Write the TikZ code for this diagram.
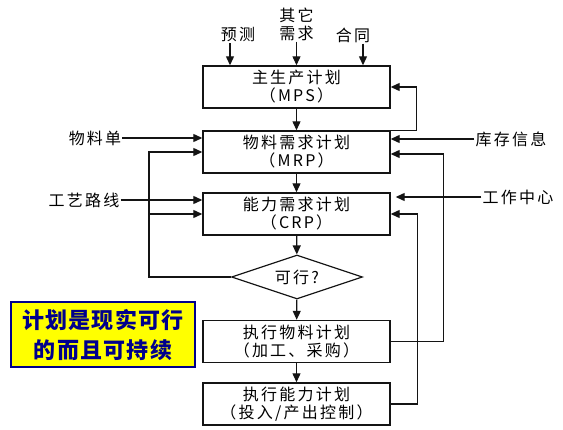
\documentclass[tikz,border=0pt]{standalone}
\usepackage{fontspec}
\usepackage{xcolor}
\usetikzlibrary{arrows.meta, positioning, shapes.geometric}
\newfontfamily\cjk[LetterSpace=14]{Noto Sans CJK SC}
\newfontfamily\notefont[LetterSpace=6]{Noto Sans CJK SC}
\definecolor{noteyellow}{RGB}{255,255,0}
\definecolor{noteblue}{RGB}{0,0,140}
\definecolor{lineblack}{RGB}{20,20,20}

\begin{document}
\begin{tikzpicture}[
    x=1pt,
    y=-1pt,
    font=\cjk\fontsize{16}{18}\selectfont,
    box/.style={draw=lineblack, line width=1.4pt, fill=white, align=center, minimum width=187pt, minimum height=42pt, inner sep=0pt},
    check/.style={draw=lineblack, line width=1.2pt, diamond, aspect=3, minimum width=131pt, minimum height=44pt, inner sep=0pt},
    label/.style={inner sep=1pt, align=center},
    note/.style={draw=noteblue, line width=1.4pt, fill=noteyellow, text=noteblue, align=center, minimum width=184pt, minimum height=65pt, inner sep=0pt, font=\notefont\bfseries\fontsize{22}{30}\selectfont},
    arrow/.style={-{Triangle[length=9pt, width=8pt]}, line width=1.2pt, draw=lineblack},
    bus/.style={line width=1.2pt, draw=lineblack}
]
\useasboundingbox (0,0) rectangle (563,430);
\node[box] (mps) at (296.5,87) {主生产计划\\（MPS）};
\node[box] (mrp) at (296.5,152) {物料需求计划\\（MRP）};
\node[box] (crp) at (296.5,214) {能力需求计划\\（CRP）};
\node[check] (feasible) at (297,277) {可行?};
\node[box] (execmat) at (296.5,341.5) {执行物料计划\\（加工、采购）};
\node[box] (execcap) at (296.5,404) {执行能力计划\\（投入/产出控制）};
\node[note] (note) at (103,334.5) {计划是现实可行\\的而且可持续};
\node[label] (forecast) at (238,35) {预测};
\node[label] (other) at (296.5,24) {其它\\需求};
\node[label] (contract) at (353,35) {合同};
\node[label] (bom) at (95,138) {物料单};
\node[label] (routing) at (84,200) {工艺路线};
\node[label] (inventory) at (511,139) {库存信息};
\node[label] (workcenter) at (518,197) {工作中心};
\coordinate (fcin) at ([xshift=-66.5pt]mps.north);
\coordinate (ctin) at ([xshift=66.5pt]mps.north);
\coordinate (loop) at (149,277);
% inputs
\draw[arrow] (fcin |- forecast.south) -- (fcin);
\draw[arrow] (other.south) -- (mps.north);
\draw[arrow] (ctin |- contract.south) -- (ctin);
\draw[arrow] (bom.east) -- (bom.east -| mrp.west);
\draw[arrow] (routing.east) -- (routing.east -| crp.west);
\draw[arrow] (inventory.west) -- (inventory.west -| mrp.east);
\draw[arrow, shorten >=5pt] (workcenter.west) -- (workcenter.west -| crp.east);
% main chain
\draw[arrow] (mps) -- (mrp);
\draw[arrow] (mrp) -- (crp);
\draw[arrow] (crp) -- (feasible);
\draw[arrow] (feasible) -- (execmat);
\draw[arrow] (execmat) -- (execcap);
% feedback
\draw[arrow] (mrp.north east) -- ++(26,0) |- (mps.east);
\draw[arrow] (execmat.east) -- ++(53,0) |- ([yshift=-2pt]mrp.east);
\draw[arrow] (execcap.east) -- ++(27,0) |- (crp.east);
\draw[arrow] (feasible.west) -- (loop) |- (mrp.west);
\draw[arrow] (crp.west -| loop) -- (crp.west);
\end{tikzpicture}
\end{document}
